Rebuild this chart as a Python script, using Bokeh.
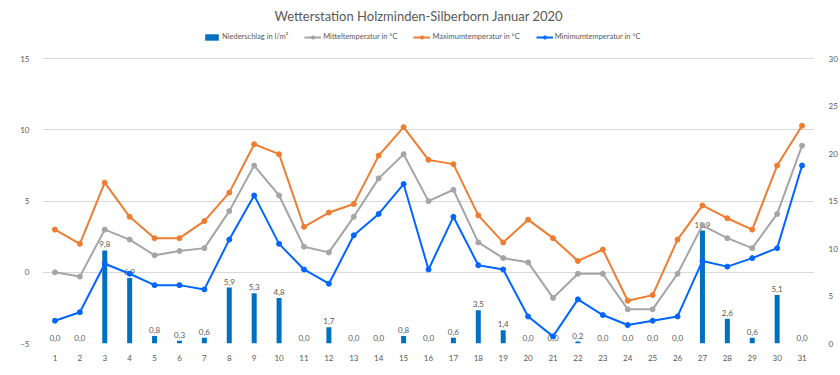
from bokeh.plotting import figure
from bokeh.models import (Range1d, LinearAxis, FixedTicker, Legend, LegendItem,
                          Label, ColumnDataSource)
from bokeh.embed import file_html
from bokeh.resources import INLINE
from bokeh.core.properties import value

# ---------------- data ----------------
days = list(range(1, 32))
precip = [0.0, 0.0, 9.8, 6.9, 0.8, 0.3, 0.6, 5.9, 5.3, 4.8, 0.0, 1.7, 0.0, 0.0, 0.8, 0.0,
          0.6, 3.5, 1.4, 0.0, 0.0, 0.2, 0.0, 0.0, 0.0, 0.0, 11.9, 2.6, 0.6, 5.1, 0.0]
tmean = [0.0, -0.3, 3.0, 2.3, 1.2, 1.5, 1.7, 4.3, 7.5, 5.4, 1.8, 1.4, 3.9, 6.6, 8.3, 5.0,
         5.8, 2.1, 1.0, 0.7, -1.8, -0.1, -0.1, -2.6, -2.6, -0.1, 3.3, 2.4, 1.7, 4.1, 8.9]
tmax = [3.0, 2.0, 6.3, 3.9, 2.4, 2.4, 3.6, 5.6, 9.0, 8.3, 3.2, 4.2, 4.8, 8.2, 10.2, 7.9,
        7.6, 4.0, 2.1, 3.7, 2.4, 0.8, 1.6, -2.0, -1.6, 2.3, 4.7, 3.8, 3.0, 7.5, 10.3]
tmin = [-3.4, -2.8, 0.6, -0.1, -0.9, -0.9, -1.2, 2.3, 5.4, 2.0, 0.2, -0.8, 2.6, 4.1, 6.2, 0.2,
        3.9, 0.5, 0.2, -3.1, -4.5, -1.9, -3.0, -3.7, -3.4, -3.1, 0.8, 0.4, 1.0, 1.7, 7.5]
left_ticks = [-5, 0, 5, 10, 15]
right_ticks = [0, 5, 10, 15, 20, 25, 30]
title_text = "Wetterstation Holzminden-Silberborn  Januar 2020"
names = ["Niederschlag in l/m²", "Mitteltemperatur in °C",
         "Maximumtemperatur in °C", "Minimumtemperatur in °C"]

FONT = "Lato"
TXT = "#595959"

# ---------------- layout ----------------
W, H = 840, 375
BL, BR, BB = 42, 26, 32
frame_h = H - BB
px_per_deg = 284.7 / 20.0
y_top = -5 + frame_h / px_per_deg

src = ColumnDataSource(dict(
    day=days, precip=precip, plabel=[f"{v:.1f}".replace(".", ",") for v in precip],
    tmean=tmean, tmax=tmax, tmin=tmin))

p = figure(width=W, height=H, output_backend="svg", toolbar_location=None,
           x_range=Range1d(0.5, 31.5), y_range=Range1d(-5, y_top),
           min_border_left=BL, min_border_right=BR, min_border_bottom=BB,
           min_border_top=0, outline_line_color=None, background_fill_color="white",
           border_fill_color="white")
p.extra_y_ranges = {"right": Range1d(0, (y_top + 5) * 1.5)}

# axes
for ax in (p.xaxis[0], p.yaxis[0]):
    ax.axis_line_color = None
    ax.major_tick_line_color = None
    ax.minor_tick_line_color = None
    ax.major_label_text_font = FONT
    ax.major_label_text_font_size = "8px"
    ax.major_label_text_color = TXT
p.xaxis.ticker = FixedTicker(ticks=days)
p.xaxis.major_label_standoff = 5
p.yaxis.ticker = FixedTicker(ticks=left_ticks)
p.yaxis.major_label_standoff = 7

rax = LinearAxis(y_range_name="right", ticker=FixedTicker(ticks=right_ticks))
rax.axis_line_color = None
rax.major_tick_line_color = None
rax.minor_tick_line_color = None
rax.major_label_text_font = FONT
rax.major_label_text_font_size = "8px"
rax.major_label_text_color = TXT
rax.major_label_standoff = 8
p.add_layout(rax, "right")

p.xgrid.visible = False
p.ygrid.ticker = FixedTicker(ticks=left_ticks)
p.ygrid.grid_line_color = "#D9D9D9"
p.ygrid.grid_line_width = 1

# bars
bars = p.vbar(x="day", top="precip", bottom=0, width=0.2, y_range_name="right",
              fill_color="#0070C0", line_color=None, source=src)
p.text(x="day", y="precip", text="plabel", y_range_name="right", source=src,
       text_align="center", text_baseline="bottom", y_offset=-3,
       text_font=value(FONT), text_font_size="8px", text_color=TXT)

series = [("tmean", "#A5A5A5"), ("tmax", "#ED7D31"), ("tmin", "#0066FF")]
rends = []
for col, c in series:
    ln = p.line(x="day", y=col, source=src, line_color=c, line_width=2)
    sc = p.scatter(x="day", y=col, source=src, marker="circle", size=5,
                   fill_color=c, line_color=c)
    rends.append([ln, sc])

legend = Legend(items=[LegendItem(label=names[0], renderers=[bars])] +
                [LegendItem(label=names[i + 1], renderers=rends[i]) for i in range(3)],
                location=(161, 302), orientation="horizontal",
                label_text_font=FONT, label_text_font_size="7.5px",
                label_text_color=TXT, glyph_width=17, glyph_height=8,
                label_height=8, label_standoff=2, spacing=16, padding=0, margin=0,
                border_line_color=None, background_fill_alpha=0)
p.add_layout(legend)

title = Label(x=15.68, y=-5 + (343 - 15) / px_per_deg, text=title_text,
              text_align="center", text_baseline="middle", text_font=FONT,
              text_font_size="13px", text_color=TXT)
p.add_layout(title)

open("out.html", "w").write(file_html(p, INLINE))
